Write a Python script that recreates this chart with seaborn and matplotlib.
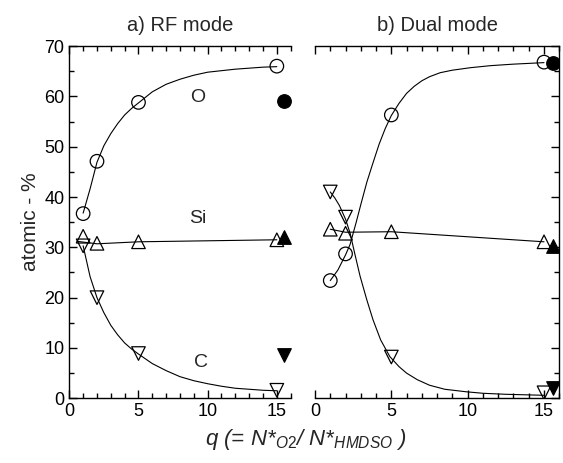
import matplotlib
matplotlib.use("Agg")
import matplotlib.pyplot as plt
from matplotlib.ticker import MultipleLocator
import seaborn as sns

# measured points, q values
q_pts = [1, 2, 5, 15]

# a) RF mode
rf_O = [36.7, 47.1, 58.8, 66.0]
rf_Si = [32.2, 30.8, 31.1, 31.5]
rf_C = [30.3, 20.0, 8.9, 1.6]
rf_q_ref = 15.5
rf_ref = {"O": 59.1, "Si": 32.1, "C": 8.6}

# b) Dual mode
du_O = [23.4, 28.7, 56.3, 66.8]
du_Si = [33.6, 32.8, 33.1, 31.1]
du_C = [41.0, 36.0, 8.2, 1.1]
du_q_ref = 15.6
du_ref = {"O": 66.6, "Si": 30.2, "C": 2.1}

# guide curves
rf_O_fit_q = [1.0, 1.5, 2.0, 2.5, 3.0, 3.5, 4.0, 4.5, 5.0, 6.0, 7.0, 8.0, 9.0,
              10.0, 11.0, 12.0, 13.0, 14.0, 15.0]
rf_O_fit = [36.8, 41.6, 46.9, 50.2, 52.6, 54.6, 56.3, 57.6, 58.7, 60.9, 62.4, 63.4,
            64.2, 64.8, 65.1, 65.4, 65.6, 65.8, 65.9]
rf_Si_fit_q = [0.55, 2.0, 5.0, 15.0]
rf_Si_fit = [31.2, 30.7, 31.1, 31.5]
rf_C_fit_q = [1.0, 1.5, 2.0, 2.5, 3.0, 3.5, 4.0, 4.5, 5.0, 6.0, 7.0, 8.0, 9.0,
              10.0, 11.0, 12.0, 13.0, 14.0, 15.0]
rf_C_fit = [30.3, 24.2, 20.0, 17.0, 14.5, 12.6, 11.0, 9.8, 8.8, 6.9, 5.5, 4.3, 3.5,
            2.9, 2.4, 2.0, 1.8, 1.6, 1.5]

du_O_fit_q = [1.0, 1.5, 2.0, 2.3, 2.7, 3.0, 3.4, 3.8, 4.2, 4.6, 5.0, 5.5, 6.0, 6.5,
              7.0, 7.5, 8.2, 9.0, 10.2, 11.5, 13.0, 15.0]
du_O_fit = [23.4, 25.5, 28.5, 30.6, 35.0, 38.5, 43.0, 46.8, 50.5, 53.6, 56.2, 58.6,
            60.6, 62.0, 63.1, 63.9, 64.7, 65.2, 65.7, 66.1, 66.4, 66.7]
du_Si_fit_q = [1.0, 2.0, 5.0, 15.0]
du_Si_fit = [33.6, 33.0, 33.1, 31.1]
du_C_fit_q = [1.0, 1.3, 1.6, 2.0, 2.3, 2.6, 2.95, 3.4, 3.8, 4.3, 4.9, 5.5, 6.0, 6.7,
              7.5, 8.5, 9.9, 11.0, 12.5, 15.0]
du_C_fit = [41.0, 39.8, 38.3, 35.6, 32.8, 28.8, 24.3, 19.5, 15.6, 11.6, 8.3, 6.3, 5.0,
            3.7, 2.6, 1.8, 1.3, 1.0, 0.8, 0.6]

sns.set_style("ticks")
plt.rcParams['font.family'] = ['Liberation Sans', 'DejaVu Sans']
plt.rcParams['mathtext.fontset'] = 'custom'
plt.rcParams['mathtext.it'] = 'Liberation Sans:italic'
plt.rcParams['mathtext.rm'] = 'Liberation Sans'
plt.rcParams['axes.linewidth'] = 1.0
plt.rcParams['axes.edgecolor'] = 'black'
plt.rcParams['axes.axisbelow'] = False
for a in ("xtick", "ytick"):
    plt.rcParams[a + '.direction'] = 'in'
    plt.rcParams[a + '.major.size'] = 6
    plt.rcParams[a + '.minor.size'] = 3.5
    plt.rcParams[a + '.major.width'] = 1.0
    plt.rcParams[a + '.minor.width'] = 1.0
    plt.rcParams[a + '.color'] = 'black'
    plt.rcParams[a + '.labelsize'] = 13

fig, (ax1, ax2) = plt.subplots(1, 2, figsize=(5.63, 4.63), dpi=100,
                               gridspec_kw={"width_ratios": [0.3932, 0.4339]})
fig.subplots_adjust(left=0.1231, right=0.9934, bottom=0.1397, top=0.9006, wspace=0.1045)

markers = {"O": "o", "Si": "^", "C": "v"}


def draw(ax, O, Si, C, q_ref, ref, fits, title):
    for (fq, fv) in fits:
        sns.lineplot(x=fq, y=fv, ax=ax, color="black", lw=0.8)
    for name, vals in (("O", O), ("Si", Si), ("C", C)):
        sns.scatterplot(x=q_pts, y=vals, ax=ax, marker=markers[name], s=95,
                        facecolor="none", edgecolor="black", linewidth=0.9, zorder=3)
        sns.scatterplot(x=[q_ref], y=[ref[name]], ax=ax, marker=markers[name], s=95,
                        color="black", edgecolor="black", linewidth=0.9, zorder=3)
    ax.set_xlim(0, 16)
    ax.set_ylim(0, 70)
    ax.xaxis.set_major_locator(MultipleLocator(5))
    ax.xaxis.set_minor_locator(MultipleLocator(1))
    ax.yaxis.set_major_locator(MultipleLocator(10))
    ax.yaxis.set_minor_locator(MultipleLocator(5))
    ax.set_title(title, fontsize=14.5, pad=11)


draw(ax1, rf_O, rf_Si, rf_C, rf_q_ref, rf_ref,
     [(rf_O_fit_q, rf_O_fit), (rf_Si_fit_q, rf_Si_fit), (rf_C_fit_q, rf_C_fit)],
     "a) RF mode")
draw(ax2, du_O, du_Si, du_C, du_q_ref, du_ref,
     [(du_O_fit_q, du_O_fit), (du_Si_fit_q, du_Si_fit), (du_C_fit_q, du_C_fit)],
     "b) Dual mode")

ax1.spines["right"].set_visible(False)
ax1.tick_params(which="both", top=True)
ax1.set_ylabel("atomic - %", fontsize=15, labelpad=3)

ax2.spines["left"].set_visible(False)
ax2.tick_params(which="both", top=True, right=True, left=False, labelleft=False)

for ax in (ax1, ax2):
    for axis in (ax.xaxis, ax.yaxis):
        axis.set_zorder(5)
        axis.set_tick_params(which="major", direction="in", length=6, width=1.0, color="black")
        axis.set_tick_params(which="minor", direction="in", length=3.5, width=1.0, color="black")

ax1.text(9.3, 59.7, "O", fontsize=14, ha="center", va="center")
ax1.text(9.3, 35.8, "Si", fontsize=14, ha="center", va="center")
ax1.text(9.5, 7.2, "C", fontsize=14, ha="center", va="center")

fig.text(0.5435, 0.05, r"q (= N*$_{\mathit{O2}}$/ N*$_{\mathit{HMDSO}}$ )",
         fontsize=16, style="italic", ha="center", va="center")

fig.savefig("out.png", dpi=100)
